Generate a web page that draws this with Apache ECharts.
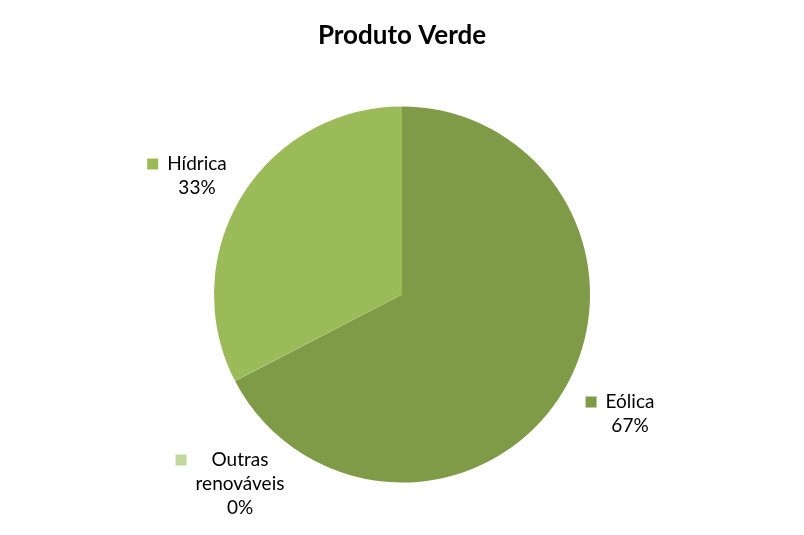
<!DOCTYPE html>
<html>
<head>
<meta charset="utf-8">
<script src="https://cdn.jsdelivr.net/npm/echarts@6/dist/echarts.min.js"></script>
<style>
  html, body { margin: 0; padding: 0; background: #fff; }
  #main { width: 804px; height: 535px; }
</style>
</head>
<body>
<div id="main"></div>
<script>
// dados do gráfico
var categorias = ['Eólica', 'Outras\nrenováveis', 'Hídrica'];
var valores = [67.4, 0.01, 32.6];
var cores = ['#7F9B48', '#C3D69B', '#9BBB59'];
// centro dos rótulos (x, y)
var posRotulos = [[620, 414], [230, 484], [187, 176]];

var chart = echarts.init(document.getElementById('main'));

var dados = categorias.map(function (c, i) {
  return { name: c, value: valores[i], itemStyle: { color: cores[i] } };
});

var rich = {
  n: { fontFamily: 'Lato', fontSize: 19, color: '#000', lineHeight: 24, align: 'center' },
  g: { width: 9, height: 11, align: 'left' },
  s: { width: 20, height: 11, align: 'left' }
};
cores.forEach(function (c, i) {
  rich['k' + i] = { width: 11, height: 11, backgroundColor: c, align: 'left' };
});

var option = {
  backgroundColor: '#fff',
  animation: false,
  title: {
    text: 'Produto Verde',
    left: 'center',
    top: 18,
    textStyle: { fontFamily: 'Lato', fontSize: 26, fontWeight: 'bold', color: '#000' }
  },
  series: [{
    type: 'pie',
    center: [402, 294.5],
    radius: 188,
    startAngle: 90,
    clockwise: true,
    data: dados,
    itemStyle: { borderWidth: 0 },
    emphasis: { disabled: true },
    labelLine: { show: false },
    label: {
      show: true,
      position: 'outside',
      rich: rich,
      formatter: function (p) {
        var linhas = p.name.split('\n');
        var txt = '{k' + p.dataIndex + '|}{g|}{n|' + linhas[0] + '}';
        for (var i = 1; i < linhas.length; i++) {
          txt += '\n{s|}{n|' + linhas[i] + '}';
        }
        txt += '\n{s|}{n|' + Math.round(p.percent) + '%}';
        return txt;
      }
    },
    labelLayout: function (params) {
      var pos = posRotulos[params.dataIndex];
      return { x: pos[0], y: pos[1], align: 'center', verticalAlign: 'middle' };
    }
  }]
};

chart.setOption(option);
</script>
</body>
</html>
